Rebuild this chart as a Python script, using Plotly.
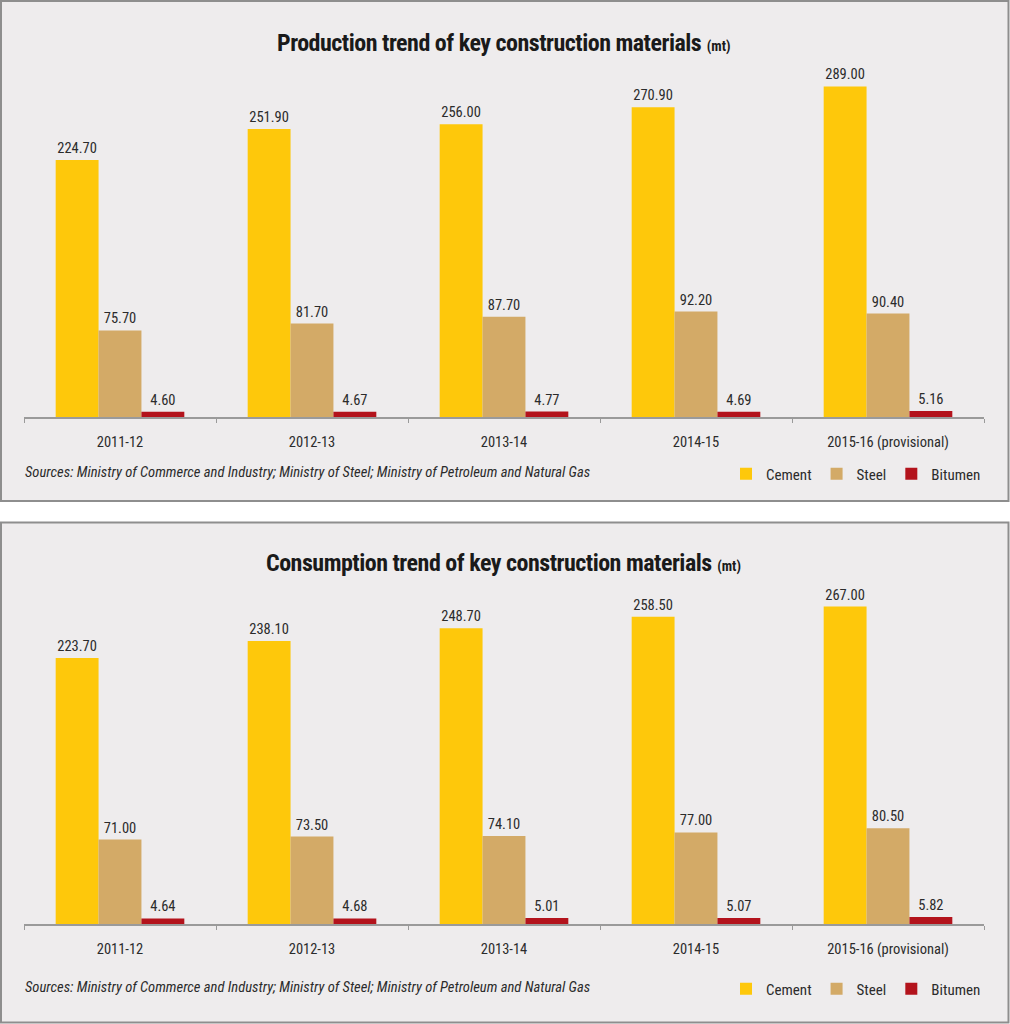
import plotly.graph_objects as go

years = ["2011-12", "2012-13", "2013-14", "2014-15", "2015-16 (provisional)"]
prod_cement = [224.70, 251.90, 256.00, 270.90, 289.00]
prod_steel = [75.70, 81.70, 87.70, 92.20, 90.40]
prod_bitumen = [4.60, 4.67, 4.77, 4.69, 5.16]
cons_cement = [223.70, 238.10, 248.70, 258.50, 267.00]
cons_steel = [71.00, 73.50, 74.10, 77.00, 80.50]
cons_bitumen = [4.64, 4.68, 5.01, 5.07, 5.82]

series_names = ["Cement", "Steel", "Bitumen"]
colors = ["#FEC80B", "#D3AA67", "#B3131C"]
title_top = "Production trend of key construction materials"
title_bottom = "Consumption trend of key construction materials"
unit = "(mt)"
source = "Sources: Ministry of Commerce and Industry; Ministry of Steel; Ministry of Petroleum and Natural Gas"

W, H = 1010, 1024
FONT = "Liberation Sans Narrow, Roboto Condensed, Noto Sans Condensed, DejaVu Sans Condensed, sans-serif"
TXT = "#2b2b2b"

def py(px):
    return 1 - px / H

def px_x(px):
    return px / W

fig = go.Figure()

panels = [
    (prod_cement, prod_steel, prod_bitumen, "x", "y", "legend"),
    (cons_cement, cons_steel, cons_bitumen, "x2", "y2", "legend2"),
]
for cem, st, bit, xa, ya, lg in panels:
    for name, vals, col in zip(series_names, [cem, st, bit], colors):
        fig.add_trace(go.Bar(
            x=years, y=vals, name=name, marker=dict(color=col, line=dict(width=0)),
            xaxis=xa, yaxis=ya, legend=lg, showlegend=True,
            texttemplate="%{y:.2f}", textposition="outside",
            textfont=dict(family=FONT, size=14.5, color=TXT),
            cliponaxis=False, hoverinfo="skip",
        ))

axis_common = dict(
    type="category", showline=True, linecolor="#9a9a9a", linewidth=1.5,
    ticks="outside", tickson="boundaries", ticklen=4, tickcolor="#9a9a9a",
    tickfont=dict(family=FONT, size=14.5, color=TXT), showgrid=False, zeroline=False,
    ticklabelstandoff=11, fixedrange=True,
)
yaxis_common = dict(visible=False, range=[0, 300], showgrid=False, zeroline=False, fixedrange=True)

x0, x1 = px_x(24), px_x(984)
fig.update_layout(
    width=W, height=H, margin=dict(l=0, r=0, t=0, b=0),
    paper_bgcolor="white", plot_bgcolor="rgba(0,0,0,0)",
    barmode="group", bargap=0.33, bargroupgap=0,
    xaxis=dict(domain=[x0, x1], anchor="y", **axis_common),
    yaxis=dict(domain=[py(417), py(417 - 1.1437 * 300)], anchor="x", **yaxis_common),
    xaxis2=dict(domain=[x0, x1], anchor="y2", **axis_common),
    yaxis2=dict(domain=[py(924), py(924 - 1.189 * 300)], anchor="x2", **yaxis_common),
    legend=dict(orientation="h", x=px_x(986), xanchor="right", y=py(474), yanchor="middle",
                bgcolor="rgba(0,0,0,0)", font=dict(family=FONT, size=15, color=TXT),
                itemwidth=30, tracegroupgap=0),
    legend2=dict(orientation="h", x=px_x(986), xanchor="right", y=py(989), yanchor="middle",
                 bgcolor="rgba(0,0,0,0)", font=dict(family=FONT, size=15, color=TXT),
                 itemwidth=30, tracegroupgap=0),
    showlegend=True,
)

shapes = []
for top, bot in [(1, 501), (522.5, 1022.5)]:
    shapes.append(dict(type="rect", xref="paper", yref="paper", layer="below",
                       x0=px_x(1), x1=px_x(1008.5), y0=py(bot), y1=py(top),
                       fillcolor="#EEECED", line=dict(color="#8e8e8e", width=2)))
fig.update_layout(shapes=shapes)

annotations = []
for t, ty, sy in [(title_top, 43, 472), (title_bottom, 563, 987)]:
    annotations.append(dict(
        xref="paper", yref="paper", x=px_x(503), y=py(ty), xanchor="center", yanchor="middle",
        text=(f"<span style='letter-spacing:-0.5px'><b>{t}</b></span> "
              f"<span style='font-size:14px'><b>{unit}</b></span>"),
        showarrow=False, font=dict(family=FONT, size=24, color="#1a1a1a"),
    ))
    annotations.append(dict(
        xref="paper", yref="paper", x=px_x(23), y=py(sy), xanchor="left", yanchor="middle",
        text=f"<i>{source}</i>", showarrow=False,
        font=dict(family=FONT, size=14.6, color=TXT),
    ))
fig.update_layout(annotations=annotations)

fig.write_html("out.html", config={"displayModeBar": False},
               post_script="document.body.style.margin='0';document.body.style.overflow='hidden';")
